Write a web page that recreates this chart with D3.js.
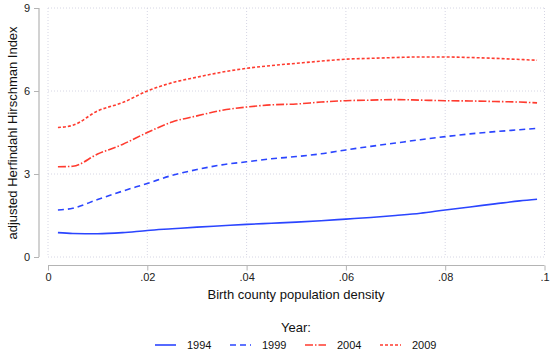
<!DOCTYPE html>
<html><head><meta charset="utf-8">
<script src="https://cdn.jsdelivr.net/npm/d3@7"></script>
<style>body{margin:0;background:#fff;} text{font-family:"Liberation Sans",Arial,sans-serif;}</style>
</head><body><svg id="c" width="550" height="356"></svg>
<script>
const density = [0.002,0.005,0.01,0.015,0.02,0.025,0.03,0.035,0.04,0.045,0.05,0.055,0.06,0.065,0.07,0.075,0.08,0.085,0.09,0.095,0.0985];
const y1994 = [0.88,0.85,0.84,0.88,0.96,1.02,1.08,1.13,1.18,1.22,1.26,1.31,1.37,1.43,1.50,1.58,1.70,1.81,1.92,2.03,2.09];
const y1999 = [1.70,1.76,2.08,2.38,2.66,2.95,3.16,3.33,3.44,3.55,3.63,3.73,3.87,4.00,4.12,4.24,4.35,4.45,4.53,4.60,4.65];
const y2004 = [3.26,3.28,3.72,4.07,4.50,4.88,5.10,5.30,5.42,5.50,5.53,5.60,5.65,5.67,5.69,5.67,5.65,5.64,5.62,5.60,5.57];
const y2009 = [4.68,4.76,5.28,5.58,6.00,6.30,6.50,6.68,6.82,6.92,7.00,7.08,7.15,7.18,7.21,7.23,7.23,7.21,7.18,7.14,7.11];
const years = ["1994","1999","2004","2009"];
const xTicks = [0,0.02,0.04,0.06,0.08,0.1];
const xTickLabels = ["0",".02",".04",".06",".08",".1"];
const yTicks = [0,3,6,9];

const seriesVals = [y1994,y1999,y2004,y2009];
const colors = ["#2b45ff","#2b45ff","#ff3b2f","#ff3b2f"];
const dashes = [null,"6,4","8,2,1.5,2","3,2"];

const svg = d3.select("#c");
const x = d3.scaleLinear().domain([0,0.1]).range([48,544.5]);
const y = d3.scaleLinear().domain([0,9]).range([257,8]);

// grid
const g = svg.append("g");
g.selectAll(".hg").data(yTicks).join("line")
  .attr("x1",48).attr("x2",544.5).attr("y1",d=>y(d)).attr("y2",d=>y(d))
  .attr("stroke","#d6d6e4").attr("stroke-width",1).attr("stroke-dasharray","1,2");
g.selectAll(".vg").data(xTicks).join("line")
  .attr("y1",8).attr("y2",257).attr("x1",d=>x(d)).attr("x2",d=>x(d))
  .attr("stroke","#d6d6e4").attr("stroke-width",1).attr("stroke-dasharray","1,2");

// y axis (offset left)
const yAxis = d3.axisLeft(y).tickValues(yTicks).tickSize(5).tickPadding(4).tickFormat(d3.format("d"));
const ya = svg.append("g").attr("transform","translate(39,0)").call(yAxis);
// x axis (offset below)
const xAxis = d3.axisBottom(x).tickValues(xTicks).tickSize(5).tickPadding(3).tickFormat((d,i)=>xTickLabels[i]);
const xa = svg.append("g").attr("transform","translate(0,265.5)").call(xAxis);
[ya,xa].forEach(a=>{
  a.select(".domain").attr("stroke","#b4b4b4").attr("stroke-width",1.2);
  a.selectAll(".tick line").attr("stroke","#b4b4b4");
  a.selectAll(".tick text").attr("fill","#222").style("font-size","11px").style("font-family","Liberation Sans, Arial, sans-serif");
});
// replace y domain to span only tick range without end caps
ya.select(".domain").attr("d","M0,"+y(9)+"V"+y(0));
xa.select(".domain").attr("d","M"+x(0)+",0H"+x(0.1));

// lines
const line = d3.line().x((d,i)=>x(density[i])).y(d=>y(d)).curve(d3.curveMonotoneX);
seriesVals.forEach((vals,k)=>{
  svg.append("path").datum(vals).attr("d",line).attr("fill","none")
    .attr("stroke",colors[k]).attr("stroke-width",1.6)
    .attr("stroke-dasharray",dashes[k]);
});

// titles
svg.append("text").attr("x",296).attr("y",299).attr("text-anchor","middle")
  .style("font-size","13px").attr("fill","#111").text("Birth county population density");
svg.append("text").attr("transform","translate(17,133) rotate(-90)").attr("text-anchor","middle")
  .style("font-size","13px").attr("fill","#111").text("adjusted Herfindahl Hirschman Index");

// legend
svg.append("text").attr("x",296).attr("y",332).attr("text-anchor","middle")
  .style("font-size","13px").attr("fill","#111").text("Year:");
const lx = [155,230,305,380];
years.forEach((yr,k)=>{
  svg.append("line").attr("x1",lx[k]).attr("x2",lx[k]+21).attr("y1",345).attr("y2",345)
    .attr("stroke",colors[k]).attr("stroke-width",1.6).attr("stroke-dasharray",dashes[k]);
  svg.append("text").attr("x",lx[k]+32).attr("y",349).style("font-size","11px").attr("fill","#111").text(yr);
});
</script></body></html>
